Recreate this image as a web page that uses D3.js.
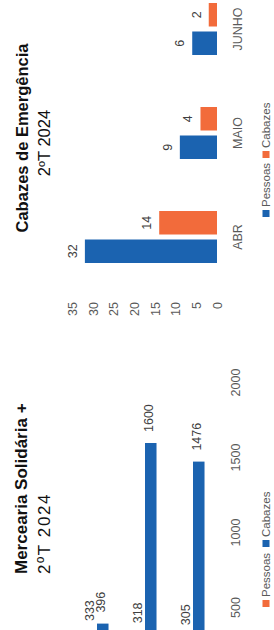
<!DOCTYPE html>
<html><head><meta charset="utf-8">
<script src="https://cdn.jsdelivr.net/npm/d3@7"></script>
<style>html,body{margin:0;padding:0;background:#fff;overflow:hidden;} svg{display:block;font-family:"Liberation Sans",Arial,sans-serif;}</style>
</head><body>
<script>
// ---- Data ----
const merceariaCategories = ["ABR", "MAIO", "JUNHO"];
const merceariaPessoas = [333, 318, 305];
const merceariaCabazes = [396, 1600, 1476];
const merceariaTicks = [500, 1000, 1500, 2000];

const emergCategories = ["ABR", "MAIO", "JUNHO"];
const emergPessoas = [32, 9, 6];
const emergCabazes = [14, 4, 2];
const emergTicks = [0, 5, 10, 15, 20, 25, 30, 35];

const BLUE = "#1b63b0", ORANGE = "#f26b3b";
const TICK = "#595959", LABEL = "#404040";

const svg = d3.select("body").append("svg").attr("width", 274).attr("height", 630);
// page is photographed rotated: draw in landscape coords, rotate -90deg
const g = svg.append("g").attr("transform", "translate(0,630) rotate(-90)");

// ---- Mercearia Solidária + (horizontal bars) ----
const m = g.append("g");
m.append("text").attr("x", 56).attr("y", 27).attr("font-size", 17).attr("font-weight", "bold")
  .attr("fill", "#111").text("Mercearia Solidária +");
m.append("text").attr("x", 56).attr("y", 50).attr("font-size", 17).attr("letter-spacing", 1.6)
  .attr("fill", "#111").text("2ºT 2024");

const mx = d3.scaleLinear().domain([0, 2000]).range([-53, 247]);
const my = d3.scaleBand().domain(merceariaCategories).range([73, 217]);
const bh = my.bandwidth() * 0.24;

const mrows = merceariaCategories.map((c, i) => ({c, p: merceariaPessoas[i], k: merceariaCabazes[i]}));
m.selectAll("rect.mp").data(mrows).join("rect").attr("class", "mp")
  .attr("x", mx(0)).attr("y", d => my(d.c) + my.bandwidth() / 2 - bh)
  .attr("width", d => mx(d.p) - mx(0)).attr("height", bh).attr("fill", ORANGE);
m.selectAll("rect.mk").data(mrows).join("rect").attr("class", "mk")
  .attr("x", mx(0)).attr("y", d => my(d.c) + my.bandwidth() / 2)
  .attr("width", d => mx(d.k) - mx(0)).attr("height", bh).attr("fill", BLUE);
m.selectAll("text.lp").data(mrows).join("text").attr("class", "lp")
  .attr("x", d => mx(d.p) + 12).attr("y", d => my(d.c) + my.bandwidth() / 2 - bh / 2 - 2)
  .attr("dy", "0.35em").attr("font-size", 12.5).attr("fill", LABEL).text(d => d.p);
m.selectAll("text.lk").data(mrows).join("text").attr("class", "lk")
  .attr("x", d => mx(d.k) + 11).attr("y", d => my(d.c) + my.bandwidth() / 2 + bh / 2 - 2)
  .attr("dy", "0.35em").attr("font-size", 12.5).attr("fill", LABEL).text(d => d.k);

const mAxis = m.append("g").attr("transform", "translate(0,231)")
  .call(d3.axisBottom(mx).tickValues(merceariaTicks).tickFormat(d3.format("d")).tickSize(0).tickPadding(0));
mAxis.select(".domain").remove();
mAxis.selectAll("text").attr("font-size", 12.5).attr("fill", TICK).attr("font-family", null);

// legend
const ml = m.append("g").attr("transform", "translate(0,266)");
[[ORANGE, "Pessoas", 23], [BLUE, "Cabazes", 83]].forEach(([col, t, x]) => {
  ml.append("rect").attr("x", x).attr("y", -3.5).attr("width", 7).attr("height", 7).attr("fill", col);
  ml.append("text").attr("x", x + 10).attr("y", 0).attr("dy", "0.35em").attr("font-size", 11.5)
    .attr("fill", TICK).text(t);
});

// ---- Cabazes de Emergência (vertical bars) ----
const e = g.append("g");
e.append("text").attr("x", 492).attr("y", 28).attr("text-anchor", "middle").attr("font-size", 16.5)
  .attr("font-weight", "bold").attr("fill", "#111").text("Cabazes de Emergência");
e.append("text").attr("x", 487).attr("y", 50).attr("text-anchor", "middle").attr("font-size", 16.5)
  .attr("fill", "#111").text("2ºT 2024");

const ey = d3.scaleLinear().domain([0, 35]).range([217, 72.5]);
const ex = d3.scaleBand().domain(emergCategories).range([341, 653]);
const bw = 23.5, gap = 2.5;
const erows = emergCategories.map((c, i) => ({c, p: emergPessoas[i], k: emergCabazes[i]}));
const cx = c => ex(c) + ex.bandwidth() / 2;

e.selectAll("rect.ep").data(erows).join("rect").attr("class", "ep")
  .attr("x", d => cx(d.c) - gap - bw).attr("y", d => ey(d.p)).attr("width", bw)
  .attr("height", d => ey(0) - ey(d.p)).attr("fill", BLUE);
e.selectAll("rect.ek").data(erows).join("rect").attr("class", "ek")
  .attr("x", d => cx(d.c) + gap).attr("y", d => ey(d.k)).attr("width", bw)
  .attr("height", d => ey(0) - ey(d.k)).attr("fill", ORANGE);
e.selectAll("text.ep").data(erows).join("text").attr("class", "ep")
  .attr("x", d => cx(d.c) - gap - bw / 2).attr("y", d => ey(d.p) - 8).attr("text-anchor", "middle")
  .attr("font-size", 12.5).attr("fill", LABEL).text(d => d.p);
e.selectAll("text.ek").data(erows).join("text").attr("class", "ek")
  .attr("x", d => cx(d.c) + gap + bw / 2).attr("y", d => ey(d.k) - 8).attr("text-anchor", "middle")
  .attr("font-size", 12.5).attr("fill", LABEL).text(d => d.k);

const eyAxis = e.append("g").attr("transform", "translate(328,0)")
  .call(d3.axisLeft(ey).tickValues(emergTicks).tickSize(0).tickPadding(0));
eyAxis.select(".domain").remove();
eyAxis.selectAll("text").attr("font-size", 12.5).attr("fill", TICK).attr("font-family", null);

const exAxis = e.append("g").attr("transform", "translate(0,233)")
  .call(d3.axisBottom(ex).tickSize(0).tickPadding(0));
exAxis.select(".domain").remove();
exAxis.selectAll("text").attr("font-size", 12.5).attr("fill", TICK).attr("font-family", null);

const el = e.append("g").attr("transform", "translate(0,266)");
[[BLUE, "Pessoas", 413], [ORANGE, "Cabazes", 472]].forEach(([col, t, x]) => {
  el.append("rect").attr("x", x).attr("y", -3.5).attr("width", 7).attr("height", 7).attr("fill", col);
  el.append("text").attr("x", x + 10).attr("y", 0).attr("dy", "0.35em").attr("font-size", 11.5)
    .attr("fill", TICK).text(t);
});
</script>
</body></html>
